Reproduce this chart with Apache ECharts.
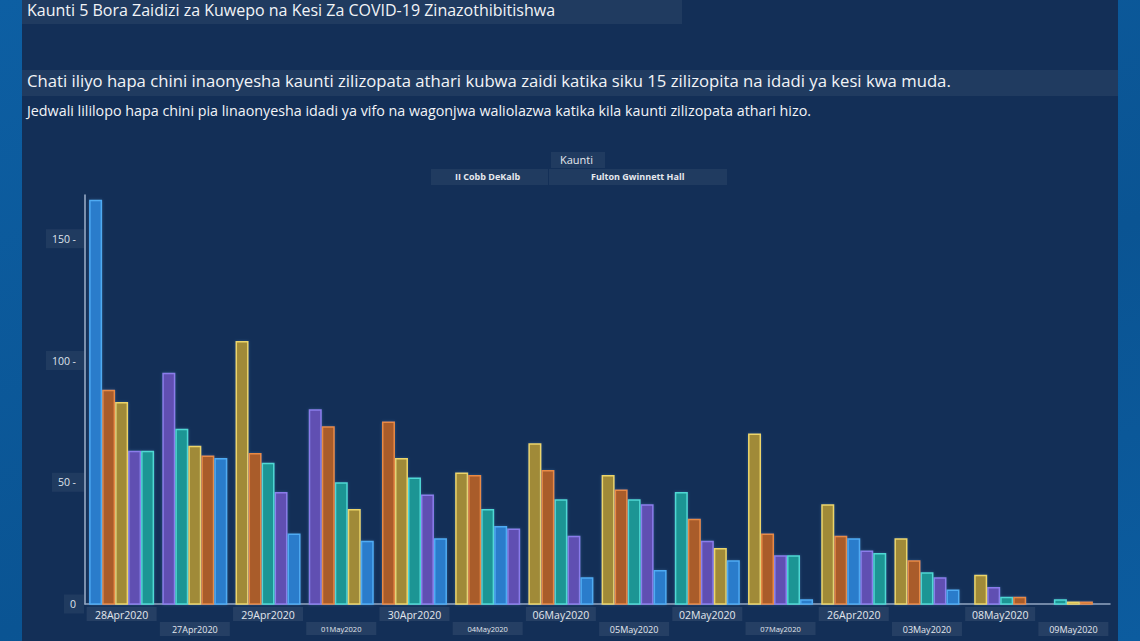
<!DOCTYPE html>
<html>
<head>
<meta charset="utf-8">
<title>Kaunti 5 Bora</title>
<script src="https://cdn.jsdelivr.net/npm/echarts@6/dist/echarts.min.js"></script>
<style>
  html, body {
    margin: 0;
    padding: 0;
    width: 1140px;
    height: 641px;
    overflow: hidden;
    background: linear-gradient(160deg, #0d5fa3 0%, #0a5493 60%, #0c5c9f 100%);
  }
  #panel {
    position: absolute;
    left: 22px;
    top: 0;
    width: 1096px;
    height: 641px;
    background-color: #132f57;
  }
  #chart {
    position: absolute;
    left: 0;
    top: 0;
    width: 1140px;
    height: 641px;
  }
</style>
</head>
<body>
<div id="panel"></div>
<div id="chart"></div>
<script>
  // dates in the order they appear on the axis
  const dates = [
    '28Apr2020', '27Apr2020', '29Apr2020', '01May2020', '30Apr2020', '04May2020', '06May2020',
    '05May2020', '02May2020', '07May2020', '26Apr2020', '03May2020', '08May2020', '09May2020',
  ];
  const smallDates = ['01May2020', '04May2020', '07May2020'];

  // new confirmed cases per county (null = no bar)
  const cobb = [63, 95, 46, 80, 45, 31, 28, 41, 26, 20, 22, 11, 7, null];
  const dekalb = [63, 72, 58, 50, 52, 39, 43, 43, 46, 20, 21, 13, 3, 2];
  const fulton = [83, 65, 108, 39, 60, 54, 66, 53, 23, 70, 41, 27, 12, 1];
  const gwinnett = [88, 61, 62, 73, 75, 53, 55, 47, 35, 29, 28, 18, 3, 1];
  const hall = [166, 60, 29, 26, 27, 32, 11, 14, 18, 2, 27, 6, null, null];

  const yTicks = [0, 50, 100, 150];

  const counties = [
    { name: 'Cobb', values: cobb, fill: '#6050b2', stroke: '#8b7ceb' },
    { name: 'DeKalb', values: dekalb, fill: '#1f9594', stroke: '#4fd8d4' },
    { name: 'Fulton', values: fulton, fill: '#a08a37', stroke: '#ecd56a' },
    { name: 'Gwinnett', values: gwinnett, fill: '#a95b2b', stroke: '#e88a45' },
    { name: 'Hall', values: hall, fill: '#2b7ccb', stroke: '#4fabf3' },
  ];

  // rank the counties inside each date, biggest first
  const ranks = dates.map((d, i) => {
    const present = counties
      .map((c, ci) => ({ ci: ci, v: c.values[i] }))
      .filter((o) => o.v !== null);
    present.sort((a, b) => b.v - a.v || a.ci - b.ci);
    const pos = {};
    present.forEach((o, r) => { pos[o.ci] = r; });
    return { pos: pos, count: present.length };
  });

  const BAR_W = 13;

  const series = counties.map((c, ci) => {
    const data = [];
    c.values.forEach((v, i) => {
      if (v === null) return;
      data.push([i, v, ranks[i].pos[ci], ranks[i].count]);
    });
    return {
      name: c.name,
      type: 'custom',
      xAxisIndex: 0,
      encode: { x: 0, y: 1 },
      data: data,
      renderItem: function (params, api) {
        const idx = api.value(0);
        const val = api.value(1);
        const rank = api.value(2);
        const n = api.value(3);
        const base = api.coord([idx, 0]);
        const top = api.coord([idx, val]);
        const x0 = base[0] - (n * BAR_W) / 2 + rank * BAR_W;
        return {
          type: 'rect',
          shape: { x: x0 + 0.75, y: top[1] + 0.75, width: BAR_W - 1.5, height: Math.max(base[1] - top[1] - 0.75, 0) },
          style: {
            fill: c.fill,
            stroke: c.stroke,
            lineWidth: 1.5,
            shadowBlur: 3,
            shadowColor: 'rgba(120,200,255,0.25)',
          },
        };
      },
    };
  });

  const boxFill = 'rgba(255,255,255,0.06)';
  const font = '"Open Sans", "Noto Sans", sans-serif';

  const chart = echarts.init(document.getElementById('chart'), null, { renderer: 'svg' });

  const option = {
    backgroundColor: 'transparent',
    animation: false,
    textStyle: { fontFamily: font },
    grid: { left: 85, right: 30, top: 195, bottom: 37, containLabel: false },
    graphic: [
      { type: 'rect', left: 22, top: 0, shape: { width: 660, height: 24 }, style: { fill: boxFill } },
      {
        type: 'text', left: 27, top: 2,
        style: { text: 'Kaunti 5 Bora Zaidizi za Kuwepo na Kesi Za COVID-19 Zinazothibitishwa', fill: '#f2f4f7', fontSize: 16, fontFamily: font },
      },
      { type: 'rect', left: 22, top: 70, shape: { width: 1096, height: 26 }, style: { fill: boxFill } },
      {
        type: 'text', left: 27, top: 72,
        style: { text: 'Chati iliyo hapa chini inaonyesha kaunti zilizopata athari kubwa zaidi katika siku 15 zilizopita na idadi ya kesi kwa muda.', fill: '#f2f4f7', fontSize: 16.7, fontFamily: font },
      },
      {
        type: 'text', left: 27, top: 103,
        style: { text: 'Jedwali lililopo hapa chini pia linaonyesha idadi ya vifo na wagonjwa waliolazwa katika kila kaunti zilizopata athari hizo.', fill: '#f2f4f7', fontSize: 14.3, fontFamily: font },
      },
      { type: 'rect', left: 551, top: 152, shape: { width: 54, height: 16 }, style: { fill: boxFill } },
      {
        type: 'text', left: 560, top: 154,
        style: { text: 'Kaunti', fill: '#e6e9ee', fontSize: 11, fontFamily: font },
      },
      { type: 'rect', left: 431, top: 169, shape: { width: 117, height: 16 }, style: { fill: boxFill } },
      {
        type: 'text', left: 455, top: 172,
        style: { text: 'II Cobb DeKalb', fill: '#e6e9ee', fontSize: 9, fontWeight: 'bold', fontFamily: font },
      },
      { type: 'rect', left: 549, top: 169, shape: { width: 178, height: 16 }, style: { fill: boxFill } },
      {
        type: 'text', left: 591, top: 172,
        style: { text: 'Fulton Gwinnett Hall', fill: '#e6e9ee', fontSize: 9, fontWeight: 'bold', fontFamily: font },
      },
    ],
    xAxis: [
      {
        type: 'category',
        data: dates,
        position: 'bottom',
        axisLine: { lineStyle: { color: '#93a7c2', width: 1.5 } },
        axisTick: { show: false },
        axisLabel: {
          interval: (index) => index % 2 === 0,
          margin: 3,
          color: '#e3e7ee',
          fontSize: 10.5,
          width: 58,
          align: 'center',
          padding: [2, 6, 1, 6],
          backgroundColor: 'rgba(255,255,255,0.08)',
        },
        splitLine: { show: false },
      },
      {
        type: 'category',
        data: dates,
        position: 'bottom',
        axisLine: { show: false },
        axisTick: { show: false },
        axisLabel: {
          interval: (index) => index % 2 === 1,
          margin: 18,
          color: '#e3e7ee',
          width: 58,
          align: 'center',
          padding: [3, 6, 2, 6],
          backgroundColor: 'rgba(255,255,255,0.08)',
          formatter: (value) => (smallDates.indexOf(value) >= 0 ? '{s|' + value + '}' : '{n|' + value + '}'),
          rich: {
            n: { fontSize: 9, color: '#e3e7ee', fontFamily: font },
            s: { fontSize: 7.5, color: '#e3e7ee', fontFamily: font },
          },
        },
        splitLine: { show: false },
      },
    ],
    yAxis: {
      type: 'value',
      min: yTicks[0],
      max: 168,
      interval: yTicks[1] - yTicks[0],
      axisLine: { show: true, lineStyle: { color: '#9fb2cb', width: 1.5 } },
      axisTick: { show: false },
      splitLine: { show: false },
      axisLabel: {
        showMaxLabel: false,
        margin: 1,
        color: '#dfe4eb',
        fontSize: 10.5,
        padding: [4, 8, 4, 6],
        backgroundColor: 'rgba(255,255,255,0.06)',
        formatter: (v) => (v === 0 ? '0' : v + ' -'),
      },
    },
    series: series,
  };

  chart.setOption(option);
</script>
</body>
</html>
